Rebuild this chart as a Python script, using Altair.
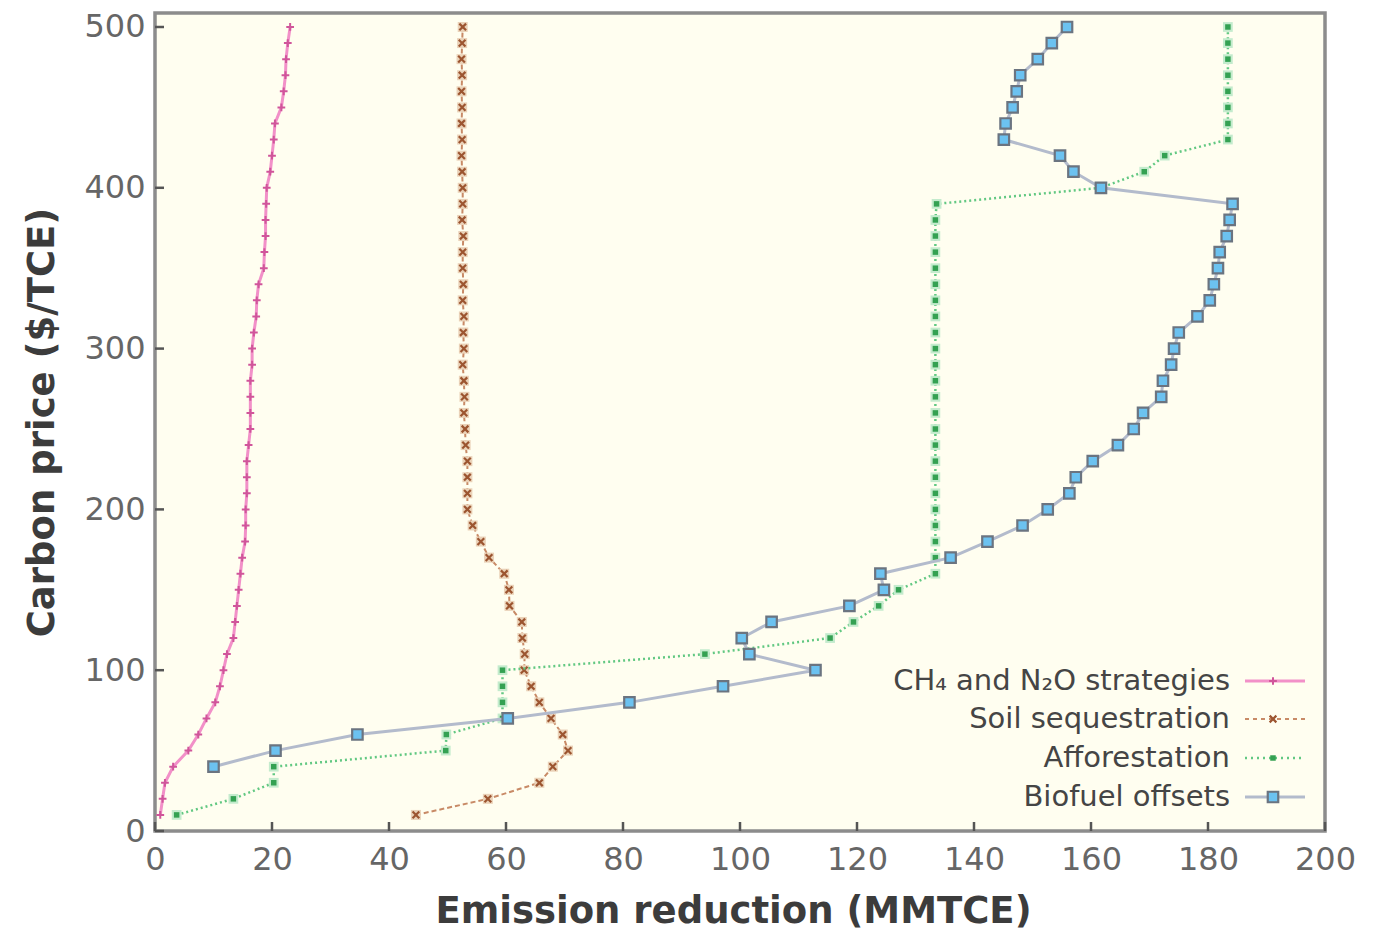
import altair as alt
import pandas as pd

# ---------------- data ----------------
prices = [10, 20, 30, 40, 50, 60, 70, 80, 90, 100,
          110, 120, 130, 140, 150, 160, 170, 180, 190, 200,
          210, 220, 230, 240, 250, 260, 270, 280, 290, 300,
          310, 320, 330, 340, 350, 360, 370, 380, 390, 400,
          410, 420, 430, 440, 450, 460, 470, 480, 490, 500]

ch4_n2o = [0.9, 1.3, 1.7, 3.1, 5.7, 7.4, 8.8, 10.3, 11.1, 11.7,
           12.3, 13.4, 13.7, 14.0, 14.3, 14.6, 14.9, 15.4, 15.5, 15.5,
           15.7, 15.7, 15.7, 16.0, 16.3, 16.3, 16.3, 16.3, 16.6, 16.6,
           16.9, 17.3, 17.4, 17.7, 18.6, 18.7, 18.9, 18.9, 19.0, 19.1,
           19.7, 20.0, 20.3, 20.5, 21.6, 22.0, 22.3, 22.4, 22.7, 23.1]

soil = [44.6, 56.9, 65.7, 68.0, 70.6, 69.7, 67.7, 65.7, 64.3, 63.1,
        63.2, 62.8, 62.7, 60.6, 60.5, 59.7, 57.1, 55.7, 54.3, 53.4,
        53.4, 53.4, 53.4, 53.1, 53.0, 52.8, 52.9, 52.8, 52.6, 52.8,
        52.7, 52.8, 52.6, 52.7, 52.6, 52.6, 52.7, 52.5, 52.6, 52.6,
        52.5, 52.4, 52.5, 52.4, 52.5, 52.4, 52.5, 52.4, 52.5, 52.6]

afforestation = [3.7, 13.4, 20.3, 20.3, 49.7, 49.8, 59.4, 59.4, 59.4, 59.4,
                 94.0, 115.4, 119.4, 123.7, 127.1, 133.4, 133.4, 133.4, 133.4, 133.4,
                 133.4, 133.4, 133.4, 133.4, 133.4, 133.4, 133.4, 133.4, 133.4, 133.4,
                 133.4, 133.4, 133.4, 133.4, 133.4, 133.4, 133.4, 133.4, 133.6, 161.7,
                 169.1, 172.6, 183.4, 183.4, 183.4, 183.4, 183.4, 183.4, 183.4, 183.4]

biofuel_prices = [40, 50, 60, 70, 80, 90, 100,
                  110, 120, 130, 140, 150, 160, 170, 180, 190, 200,
                  210, 220, 230, 240, 250, 260, 270, 280, 290, 300,
                  310, 320, 330, 340, 350, 360, 370, 380, 390, 400,
                  410, 420, 430, 440, 450, 460, 470, 480, 490, 500]

biofuel = [10.0, 20.6, 34.6, 60.3, 81.1, 97.1, 112.9,
           101.6, 100.3, 105.4, 118.7, 124.6, 124.0, 136.0, 142.3, 148.3, 152.6,
           156.3, 157.4, 160.3, 164.6, 167.3, 168.9, 172.0, 172.3, 173.7, 174.2,
           175.0, 178.2, 180.3, 181.0, 181.7, 182.0, 183.2, 183.7, 184.2, 161.7,
           157.0, 154.7, 145.1, 145.4, 146.6, 147.3, 147.9, 150.9, 153.3, 155.9]

series_names = ["CH\u2084 and N\u2082O strategies", "Soil sequestration",
                "Afforestation", "Biofuel offsets"]

x_ticks = [0, 20, 40, 60, 80, 100, 120, 140, 160, 180, 200]
y_ticks = [0, 100, 200, 300, 400, 500]

# ---------------- styling ----------------
FONT = "DejaVu Sans"
W, H = 1170, 818
TICK_LEN = 9


def frame(xs, ys, name):
    return pd.DataFrame({"x": xs, "y": ys, "series": name})


df_ch4 = frame(ch4_n2o, prices, series_names[0])
df_soil = frame(soil, prices, series_names[1])
df_aff = frame(afforestation, prices, series_names[2])
df_bio = frame(biofuel, biofuel_prices, series_names[3])

X = alt.X("x:Q",
          scale=alt.Scale(domain=[0, 200], nice=False, zero=False),
          axis=alt.Axis(values=x_ticks, title="Emission reduction (MMTCE)",
                        labelPadding=22, titlePadding=18, labelFlush=False,
                        labelOverlap=False, titleX=578, zindex=1))
Y = alt.Y("y:Q",
          scale=alt.Scale(domain=[0, 508.7], nice=False, zero=False),
          axis=alt.Axis(values=y_ticks, title="Carbon price ($/TCE)",
                        labelPadding=19, titlePadding=22, labelFlush=False,
                        labelOverlap=False, zindex=1))
O = alt.Order("y:Q")

PLUS = "M-1,0L1,0M0,-1L0,1"
CROSS = "M-1,-1L1,1M-1,1L1,-1"

# inward tick marks, placed through the axes' scales
xtick_df = pd.DataFrame({"x": x_ticks})
ytick_df = pd.DataFrame({"y": y_ticks})
xticks = alt.Chart(xtick_df).mark_rule(color="#555555", strokeWidth=2.5).encode(
    x=X, y=alt.value(H), y2=alt.value(H - TICK_LEN))
yticks = alt.Chart(ytick_df).mark_rule(color="#555555", strokeWidth=2.5).encode(
    y=Y, x=alt.value(0), x2=alt.value(TICK_LEN))

ch4_line = alt.Chart(df_ch4).mark_line(color="#f290c8", strokeWidth=3).encode(x=X, y=Y, order=O)
ch4_pts = alt.Chart(df_ch4).mark_point(shape=PLUS, filled=False, stroke="#d0559a",
                                       strokeWidth=2, size=60, opacity=1).encode(x=X, y=Y)

soil_line = alt.Chart(df_soil).mark_line(color="#c88a66", strokeWidth=2,
                                         strokeDash=[5, 3]).encode(x=X, y=Y, order=O)
soil_halo = alt.Chart(df_soil).mark_point(shape="square", filled=True, color="#ead2b8",
                                          size=100, opacity=1).encode(x=X, y=Y)
soil_pts = alt.Chart(df_soil).mark_point(shape=CROSS, filled=False, stroke="#9c5530",
                                         strokeWidth=2.2, size=45, opacity=1).encode(x=X, y=Y)

aff_line = alt.Chart(df_aff).mark_line(color="#62c882", strokeWidth=2.5,
                                       strokeDash=[2, 3]).encode(x=X, y=Y, order=O)
aff_halo = alt.Chart(df_aff).mark_point(shape="square", filled=True, color="#c4ebcd",
                                        size=95, opacity=1).encode(x=X, y=Y)
aff_pts = alt.Chart(df_aff).mark_point(shape="square", filled=True, color="#34a152",
                                       size=30, opacity=1).encode(x=X, y=Y)

bio_line = alt.Chart(df_bio).mark_line(color="#b3bbcc", strokeWidth=3).encode(x=X, y=Y, order=O)
bio_pts = alt.Chart(df_bio).mark_point(shape="square", filled=True, fill="#6cc2f0",
                                       stroke="#6b7480", strokeWidth=2.2, size=110,
                                       opacity=1).encode(x=X, y=Y)

# ---------------- legend (label on the left, sample on the right) ----------------
legend_rows = [668, 706, 745, 784]
lab_x, l0, l1, mk = 1075, 1090, 1150, 1118
legend_layers = []
for i, name in enumerate(series_names):
    ly = legend_rows[i]
    d = pd.DataFrame({"label": [name]})
    legend_layers.append(
        alt.Chart(d).mark_text(align="right", baseline="middle", font=FONT, fontSize=29,
                               color="#454545").encode(x=alt.value(lab_x), y=alt.value(ly),
                                                       text="label:N"))
    if i == 0:
        ln = dict(color="#f290c8", strokeWidth=3)
        pt = dict(shape=PLUS, filled=False, stroke="#d0559a", strokeWidth=2, size=60)
    elif i == 1:
        ln = dict(color="#c88a66", strokeWidth=2, strokeDash=[4, 4])
        pt = dict(shape=CROSS, filled=False, stroke="#9c5530", strokeWidth=2.2, size=45)
    elif i == 2:
        ln = dict(color="#62c882", strokeWidth=2.5, strokeDash=[2, 4])
        pt = dict(shape="square", filled=True, color="#34a152", size=30)
    else:
        ln = dict(color="#b3bbcc", strokeWidth=3)
        pt = dict(shape="square", filled=True, fill="#6cc2f0", stroke="#6b7480",
                  strokeWidth=2.2, size=110)
    legend_layers.append(
        alt.Chart(d).mark_rule(**ln).encode(x=alt.value(l0), x2=alt.value(l1), y=alt.value(ly)))
    legend_layers.append(
        alt.Chart(d).mark_point(opacity=1, **pt).encode(x=alt.value(mk), y=alt.value(ly)))

chart = alt.layer(
    xticks, yticks,
    ch4_line, ch4_pts,
    soil_line, soil_halo, soil_pts,
    aff_line, aff_halo, aff_pts,
    bio_line, bio_pts,
    *legend_layers
).properties(
    width=W, height=H,
    autosize=alt.AutoSizeParams(type="none"),
    padding={"left": 147, "top": 5, "right": 40, "bottom": 103},
    background="white",
).configure_view(
    fill="#fffef0", stroke="#8c8c8c", strokeWidth=3.5
).configure_axis(
    domain=False, grid=False,
    labelFont=FONT, labelFontSize=32, labelColor="#666666",
    titleFont=FONT, titleFontSize=37, titleFontWeight="bold", titleColor="#3c3c3c",
    tickOpacity=0, tickSize=alt.ExprRef("-9"),
)

chart.save("out.html", embed_options={"renderer": "svg", "actions": False})
